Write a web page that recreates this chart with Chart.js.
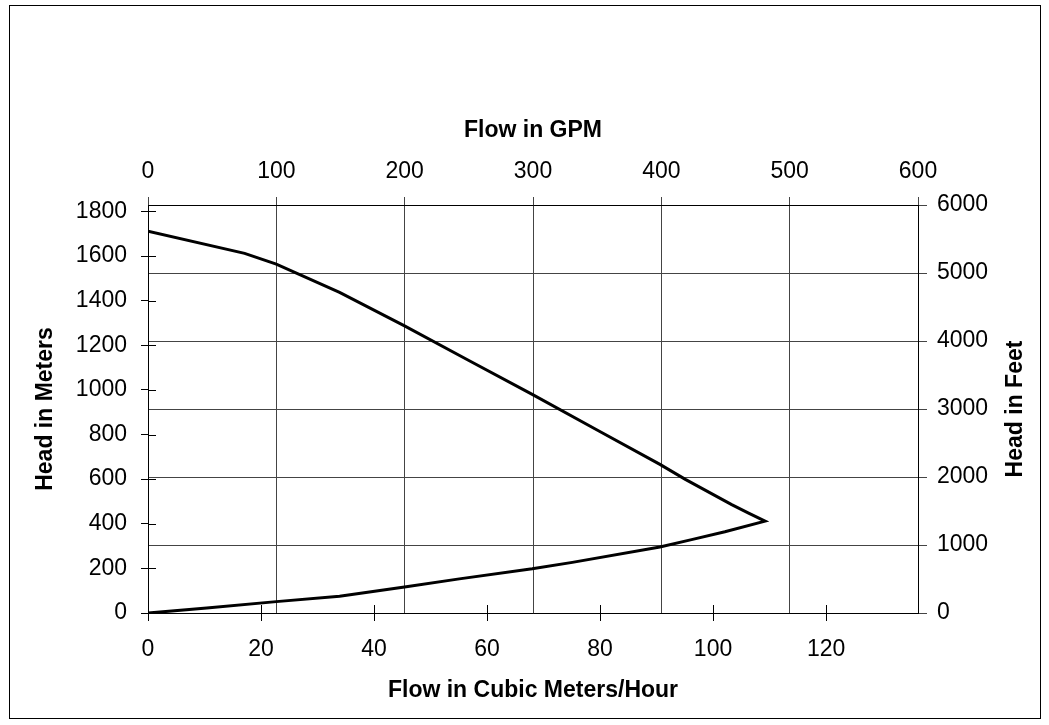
<!DOCTYPE html>
<html>
<head>
<meta charset="utf-8">
<script src="https://cdn.jsdelivr.net/npm/chart.js@4"></script>
<style>
  html, body { margin: 0; padding: 0; background: #fff; }
  canvas { display: block; }
</style>
</head>
<body>
<canvas id="pumpChart" width="1049" height="725"></canvas>
<script>
// pump curve (m3/h vs meters)
const flowM3h = [0, 17.1, 22.7, 33.9, 45.4, 56.7, 68.0, 79.8, 90.6, 95.1, 103.3, 106.2, 109.2,
                 102.1, 96.2, 90.6, 75.1, 68.0, 55.1, 45.4, 33.9, 22.7, 10.4, 0];
const headM = [1711, 1612, 1564, 1437, 1287, 1133, 980, 816, 666, 599, 486, 449, 412,
               364, 329, 296, 227, 198, 153, 117, 75, 51, 22, 0];

// axis ranges and tick labels
const m3hMax = 136.27;       // 600 GPM in m3/h
const metersMax = 1828.8;    // 6000 ft in m
const m3hTicks = [0, 20, 40, 60, 80, 100, 120];
const gpmTicks = [0, 100, 200, 300, 400, 500, 600];
const meterTicks = [0, 200, 400, 600, 800, 1000, 1200, 1400, 1600, 1800];
const feetTicks = [0, 1000, 2000, 3000, 4000, 5000, 6000];

const xTitle = 'Flow in Cubic Meters/Hour';
const x2Title = 'Flow in GPM';
const yTitle = 'Head in Meters';
const y2Title = 'Head in Feet';

const points = flowM3h.map((f, i) => ({x: f, y: headM[i]}));

Chart.defaults.font.family = '"Liberation Sans", Arial, sans-serif';
Chart.defaults.font.size = 23;
Chart.defaults.color = '#000';

const titleFont = {size: 23, weight: 'bold'};
const setTicks = list => s => { s.ticks = list.map(v => ({value: v})); };
const plainLabel = v => String(v);

const innerTicks = {
    id: 'innerTicks',
    beforeDatasetsDraw(chart) {
        const {ctx, scales: {x, y}} = chart;
        ctx.save();
        ctx.strokeStyle = '#000';
        ctx.lineWidth = 1;
        ctx.beginPath();
        y.ticks.forEach(t => {
            const py = Math.round(y.getPixelForValue(t.value)) + 0.5;
            ctx.moveTo(y.right, py);
            ctx.lineTo(y.right + 8, py);
        });
        x.ticks.forEach(t => {
            const px = Math.round(x.getPixelForValue(t.value)) + 0.5;
            ctx.moveTo(px, x.top);
            ctx.lineTo(px, x.top - 8);
        });
        ctx.stroke();
        ctx.restore();
    }
};

// right axis title reads bottom-to-top like the left one
const rightTitle = {
    id: 'rightTitle',
    afterDraw(chart) {
        const {ctx, chartArea} = chart;
        ctx.save();
        ctx.font = 'bold 23px "Liberation Sans", Arial, sans-serif';
        ctx.fillStyle = '#000';
        ctx.textAlign = 'center';
        ctx.textBaseline = 'middle';
        ctx.translate(1016, (chartArea.top + chartArea.bottom) / 2);
        ctx.rotate(-Math.PI / 2);
        ctx.fillText(y2Title, 0, 0);
        ctx.restore();
    }
};

const frame = {
    id: 'frame',
    beforeDraw(chart) {
        const ctx = chart.ctx;
        ctx.save();
        ctx.fillStyle = '#fff';
        ctx.fillRect(0, 0, chart.width, chart.height);
        ctx.strokeStyle = '#000';
        ctx.lineWidth = 1;
        ctx.strokeRect(9.5, 5.5, 1031, 713);
        ctx.restore();
    }
};

new Chart(document.getElementById('pumpChart'), {
    type: 'scatter',
    data: {
        datasets: [{
            data: points,
            showLine: true,
            borderColor: '#000',
            borderWidth: 3,
            pointRadius: 0,
            tension: 0,
            xAxisID: 'x',
            yAxisID: 'y'
        }]
    },
    options: {
        responsive: false,
        animation: false,
        devicePixelRatio: 1,
        layout: {padding: 0},
        plugins: {legend: {display: false}, tooltip: {enabled: false}},
        scales: {
            x: {
                type: 'linear', position: 'bottom',
                min: 0, max: m3hMax,
                afterBuildTicks: setTicks(m3hTicks),
                ticks: {padding: 15, maxRotation: 0, autoSkip: false, callback: plainLabel},
                grid: {drawOnChartArea: false, tickLength: 8, color: '#000'},
                border: {color: '#000', width: 1},
                title: {display: true, text: xTitle, font: titleFont, padding: {top: 0, bottom: 21}},
                afterFit: s => { s.height = 112; }
            },
            x2: {
                type: 'linear', position: 'top', display: true,
                min: 0, max: 600,
                afterBuildTicks: setTicks(gpmTicks),
                ticks: {padding: 12, maxRotation: 0, autoSkip: false, callback: plainLabel},
                grid: {drawOnChartArea: true, tickLength: 8, color: '#444'},
                border: {color: '#000', width: 1},
                title: {display: true, text: x2Title, font: titleFont, padding: {top: 117, bottom: 0}},
                afterFit: s => { s.height = 205; }
            },
            y: {
                type: 'linear', position: 'left',
                min: 0, max: metersMax,
                afterBuildTicks: setTicks(meterTicks),
                ticks: {padding: 14, autoSkip: false, callback: plainLabel},
                grid: {drawOnChartArea: false, tickLength: 7, color: '#000'},
                border: {color: '#000', width: 1},
                title: {display: true, text: yTitle, font: titleFont, padding: {top: 32, bottom: 0}},
                afterFit: s => { s.width = 148; }
            },
            y2: {
                type: 'linear', position: 'right', display: true,
                min: 0, max: 6000,
                afterBuildTicks: setTicks(feetTicks),
                ticks: {padding: 10, autoSkip: false, callback: plainLabel},
                grid: {drawOnChartArea: true, tickLength: 9, color: '#444'},
                border: {color: '#000', width: 1},
                title: {display: false},
                afterFit: s => { s.width = 131; }
            }
        }
    },
    plugins: [frame, innerTicks, rightTitle]
});
</script>
</body>
</html>
